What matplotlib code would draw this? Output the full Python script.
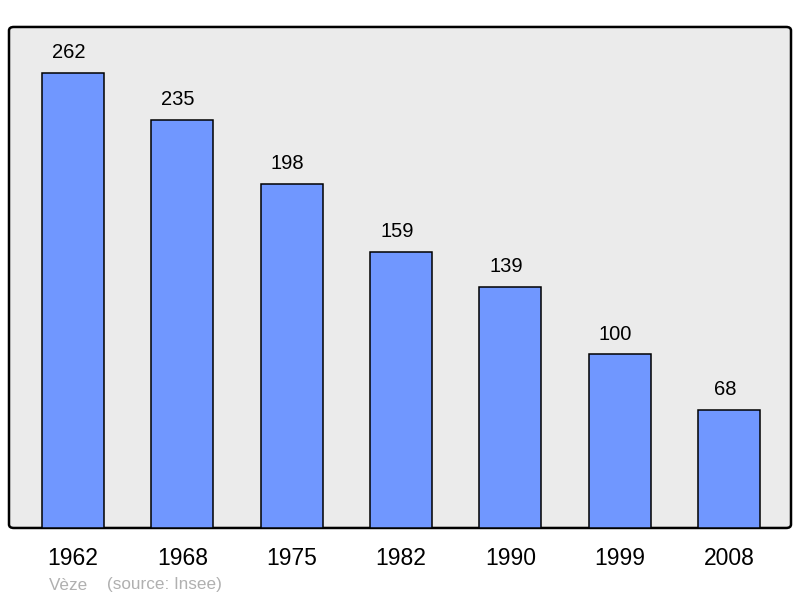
import matplotlib
matplotlib.use("Agg")
import matplotlib.pyplot as plt
from matplotlib.patches import FancyBboxPatch

# Data
years = ['1962', '1968', '1975', '1982', '1990', '1999', '2008']
population = [262, 235, 198, 159, 139, 100, 68]

plt.rcParams['font.family'] = ['Liberation Sans', 'DejaVu Sans']

fig = plt.figure(figsize=(8, 5.98), dpi=100)
ax = fig.add_axes([0.01125, 0.1171, 0.9775, 0.8378])
ax.set_facecolor('none')
ax.set_zorder(2)

# rounded frame behind the axes
frame = FancyBboxPatch((0.01125, 0.1171), 0.9775, 0.8378,
                       boxstyle="round,pad=0,rounding_size=0.006",
                       transform=fig.transFigure, facecolor='#ebebeb',
                       edgecolor='black', linewidth=1.8, zorder=-1)
fig.patches.append(frame)

x = range(len(years))
bars = ax.bar(x, population, width=0.567, color='#7097ff',
              edgecolor='black', linewidth=1.1, zorder=2)

for xi, v in zip(x, population):
    ax.annotate(str(v), (xi, v), xytext=(-3, 14.5), textcoords='offset points',
                ha='center', va='center', fontsize=14.5, color='black')

ax.set_xlim(-0.585, 6.565)
ax.set_ylim(0, 288.4)
for s in ax.spines.values():
    s.set_visible(False)
ax.set_yticks([])
ax.set_xticks(list(x))
ax.set_xticklabels(years, fontsize=16.5)
ax.tick_params(axis='x', length=0, pad=13.5)

fig.text(49/800, 1 - 585/598, 'Vèze', fontsize=12.3, color='#b0b0b0',
         ha='left', va='center')
fig.text(107/800, 1 - 585/598, '(source: Insee)', fontsize=12.3,
         color='#b0b0b0', ha='left', va='center')

fig.savefig('out.png', dpi=100)
